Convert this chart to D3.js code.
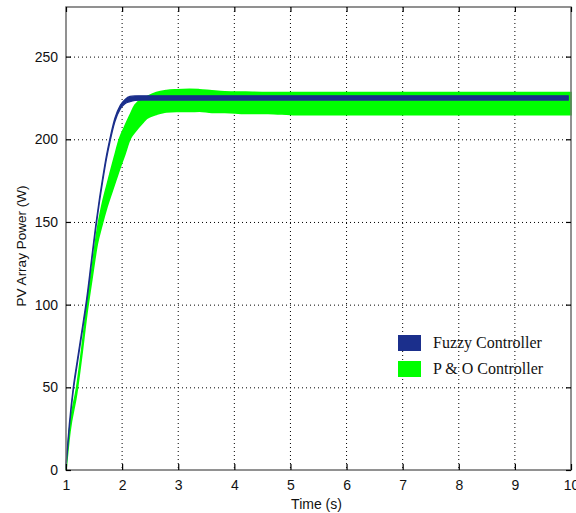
<!DOCTYPE html>
<html>
<head>
<meta charset="utf-8">
<script src="https://cdn.jsdelivr.net/npm/d3@7"></script>
<style>
  html, body { margin: 0; padding: 0; background: #fff; }
  svg { display: block; }
</style>
</head>
<body>
<svg id="chart" width="576" height="513"></svg>
<script>
// ---- Data ----
const xTicks = [1, 2, 3, 4, 5, 6, 7, 8, 9, 10];
const yTicks = [0, 50, 100, 150, 200, 250];

const fuzzyTime  = [1.00, 1.06, 1.13, 1.20, 1.30, 1.37, 1.45, 1.53, 1.60, 1.66, 1.72, 1.78, 1.87, 1.97, 2.05, 2.14, 2.23, 2.35, 9.95];
const fuzzyUpper = [3, 28, 50, 66, 88, 104, 126, 148, 165, 178, 190, 200, 212.6, 220.7, 224, 225.9, 226.2, 226.3, 226.3];
const fuzzyLower = [1, 26, 48, 64, 86, 102, 124, 146, 163, 176, 188, 198, 210.5, 218.5, 221.5, 222.8, 223.5, 223.7, 223.7];

const poTime  = [1.00, 1.07, 1.19, 1.28, 1.37, 1.46, 1.56, 1.64, 1.73, 1.86, 1.95, 2.05, 2.14, 2.23, 2.38, 2.44, 2.61, 2.79, 2.97, 3.20, 3.38, 3.60, 3.83, 4.20, 4.60, 5.10, 6.00, 10.0];
const poUpper = [1, 27, 50, 73, 99, 121, 146, 160, 172.3, 189, 200, 208, 214.6, 220.7, 224.7, 225.8, 228.3, 229.5, 230, 230.3, 230, 229.3, 228.7, 228.5, 228.3, 228.3, 228.3, 228.3];
const poLower = [0, 23, 46, 69, 94, 115, 137, 148, 159, 172.3, 181.5, 191, 200, 204.5, 210.5, 212.6, 215, 216.6, 216.8, 216.8, 217, 216.3, 216.3, 215.7, 215.7, 214.8, 214.8, 214.8];

const seriesNames = ["Fuzzy Controller", "P & O Controller"];
const seriesColors = ["#1b2f8c", "#00ff00"];

// ---- Layout ----
const svg = d3.select("#chart");
const L = 66, R = 571, T = 7, B = 470;

const x = d3.scaleLinear().domain([1, 10]).range([L, R]);
const y = d3.scaleLinear().domain([0, 280]).range([B, T]);

// Grid
const grid = svg.append("g");
grid.selectAll("line.gx").data(xTicks.slice(1, -1)).join("line")
  .attr("x1", d => x(d)).attr("x2", d => x(d)).attr("y1", T).attr("y2", B)
  .attr("stroke", "#000").attr("stroke-width", 1).attr("stroke-dasharray", "1,3");
grid.selectAll("line.gy").data(yTicks.slice(1)).join("line")
  .attr("y1", d => y(d) + 0.5).attr("y2", d => y(d) + 0.5).attr("x1", L).attr("x2", R)
  .attr("stroke", "#000").attr("stroke-width", 1).attr("stroke-dasharray", "1,3");

// Bands
function band(time, up, lo) {
  return time.map((t, i) => ({ t, u: up[i], l: lo[i] }));
}
const area = d3.area().curve(d3.curveMonotoneX)
  .x(d => x(d.t)).y0(d => y(d.l)).y1(d => y(d.u));

const po = band(poTime, poUpper, poLower);
const fz = band(fuzzyTime, fuzzyUpper, fuzzyLower);

svg.append("path").datum(po).attr("d", area)
  .attr("fill", seriesColors[1]).attr("stroke", seriesColors[1]).attr("stroke-width", 1.6);
svg.append("path").datum(fz).attr("d", area)
  .attr("fill", seriesColors[0]).attr("stroke", seriesColors[0]).attr("stroke-width", 1.3);

// Axes frame
const axisColor = "#6e6e6e";
svg.append("rect").attr("x", L).attr("y", T).attr("width", R - L).attr("height", B - T)
  .attr("fill", "none").attr("stroke", axisColor).attr("stroke-width", 1.5);

// Ticks (inward) using d3 axes
const axB = d3.axisBottom(x).tickValues(xTicks).tickSize(-6).tickPadding(10).tickFormat(d3.format("d"));
const axL = d3.axisLeft(y).tickValues(yTicks).tickSize(-5).tickPadding(8).tickFormat(d3.format("d"));
const axT = d3.axisTop(x).tickValues(xTicks).tickSize(-5).tickFormat("");
const axR = d3.axisRight(y).tickValues(yTicks).tickSize(-5).tickFormat("");

function styleAxis(g) {
  g.select(".domain").remove();
  g.selectAll(".tick line").attr("stroke", "#000").attr("stroke-width", 1.2);
  g.selectAll(".tick text").attr("fill", "#111")
    .style("font-family", "'Liberation Sans', Arial, sans-serif").style("font-size", "14px");
}
svg.append("g").attr("transform", `translate(0,${B})`).call(axB).call(styleAxis);
svg.append("g").attr("transform", `translate(${L},0)`).call(axL).call(styleAxis);
svg.append("g").attr("transform", `translate(0,${T})`).call(axT).call(styleAxis);
svg.append("g").attr("transform", `translate(${R},0)`).call(axR).call(styleAxis);

// Axis titles
svg.append("text").attr("x", (L + R) / 2 - 2).attr("y", 509).attr("text-anchor", "middle")
  .style("font-family", "'Liberation Sans', Arial, sans-serif").style("font-size", "14px").attr("fill", "#111")
  .text("Time (s)");
svg.append("text").attr("transform", `translate(26,246) rotate(-90)`).attr("text-anchor", "middle")
  .style("font-family", "'Liberation Sans', Arial, sans-serif").style("font-size", "13.5px").attr("fill", "#111")
  .text("PV Array Power (W)");

// Legend
const leg = svg.append("g");
seriesNames.forEach((name, i) => {
  const yy = 335 + i * 26;
  leg.append("rect").attr("x", 398).attr("y", yy).attr("width", 23).attr("height", 16)
    .attr("fill", seriesColors[i]);
  leg.append("text").attr("x", 433).attr("y", yy + 13)
    .style("font-family", "'Liberation Serif', 'Times New Roman', serif").style("font-size", "16px")
    .attr("fill", "#111").text(name);
});
</script>
</body>
</html>
